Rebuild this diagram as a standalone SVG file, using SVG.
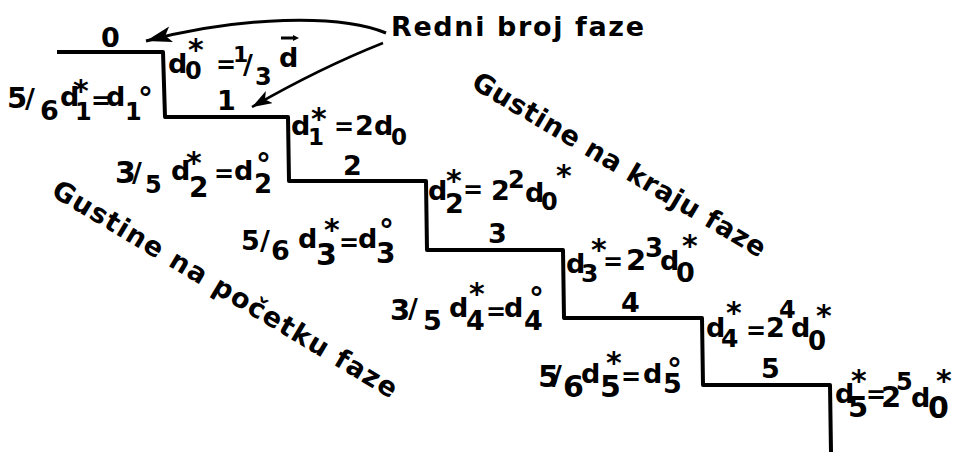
<svg xmlns="http://www.w3.org/2000/svg" width="957" height="452" viewBox="0 0 957 452">
<defs>
<style>
text{font-family:"DejaVu Sans","Liberation Sans",sans-serif;font-weight:bold;fill:#000;font-size:27px}
.s{font-size:24px}
.ast{font-size:30px}
.deg{font-size:30px}
.eq{font-size:24px}
.line{fill:none;stroke:#000;stroke-width:4;stroke-linejoin:round}
.arr{fill:none;stroke:#000}
</style>
<marker id="ah1" markerUnits="userSpaceOnUse" markerWidth="28" markerHeight="20" refX="26" refY="9" orient="auto">
<path d="M0,1 L26,9 L0,17 L6,9 z" fill="#000"/>
</marker>
<marker id="ah2" markerUnits="userSpaceOnUse" markerWidth="22" markerHeight="16" refX="20" refY="7" orient="auto">
<path d="M0,0 L20,7 L0,14 L5,7 z" fill="#000"/>
</marker>
</defs>
<rect width="957" height="452" fill="#fff"/>

<g id="staircase">
<path class="line" d="M57,52 L163,52 L165,117 L288,117 L289,181 L426,181 L427,250 L563,250 L564,318 L702,318 L703,385 L830,385 L831,452"/>
</g>

<g id="connectors">
<path class="arr" stroke-width="3" d="M386,33 C340,14 240,16 146,41" marker-end="url(#ah1)"/>
<path class="arr" stroke-width="2.5" d="M383,43 Q320,68 252,107" marker-end="url(#ah2)"/>
</g>

<g id="title">
<text x="391" y="36" font-size="26" textLength="253" lengthAdjust="spacing">Redni broj faze</text>
</g>

<g id="phase-0"><text x="101" y="47" font-size="23">0</text></g>
<g id="phase-1"><text x="217" y="110" font-size="24">1</text></g>
<g id="phase-2"><text x="343" y="175" font-size="25">2</text></g>
<g id="phase-3"><text x="488" y="243" font-size="27">3</text></g>
<g id="phase-4"><text x="621" y="312" font-size="26">4</text></g>
<g id="phase-5"><text x="761" y="378" font-size="26">5</text></g>

<g id="f0">
<text><tspan x="168" y="73">d</tspan><tspan x="185" y="79" class="s">0</tspan><tspan x="188" y="60" class="ast">*</tspan><tspan x="216" y="73" class="eq">=</tspan><tspan x="233" y="62" font-size="22">1</tspan><tspan x="243" y="74">/</tspan><tspan x="255" y="85" class="s">3</tspan><tspan x="279" y="67">d</tspan></text>
<path d="M281,38 L295,38" stroke="#000" stroke-width="3"/>
<path d="M293,35 L299,38 L293,41 z" fill="#000"/>
</g>

<g id="f1-start">
<text><tspan x="7" y="108" font-size="29">5</tspan><tspan x="25" y="108">/</tspan><tspan x="40" y="120">6</tspan><tspan x="60" y="106">d</tspan><tspan x="75" y="120" font-size="24">1</tspan><tspan x="73" y="101" class="ast">*</tspan><tspan x="91" y="109" class="eq">=</tspan><tspan x="106" y="106">d</tspan><tspan x="125" y="120" font-size="24">1</tspan><tspan x="138" y="109" class="deg">°</tspan></text>
</g>

<g id="f1-end">
<text><tspan x="291" y="135">d</tspan><tspan x="308" y="145" font-size="23">1</tspan><tspan x="311" y="129" class="ast">*</tspan><tspan x="334" y="135" class="eq">=</tspan><tspan x="355" y="135">2</tspan><tspan x="374" y="135">d</tspan><tspan x="391" y="145" font-size="23">0</tspan></text>
</g>

<g id="f2-start">
<text><tspan x="115" y="183" font-size="30">3</tspan><tspan x="132" y="182">/</tspan><tspan x="145" y="193" class="s">5</tspan><tspan x="171" y="180">d</tspan><tspan x="189" y="197" font-size="28">2</tspan><tspan x="186" y="173" class="ast">*</tspan><tspan x="214" y="182" class="eq">=</tspan><tspan x="234" y="180">d</tspan><tspan x="254" y="193" font-size="26">2</tspan><tspan x="256" y="175" class="deg">°</tspan></text>
</g>

<g id="f2-end">
<text><tspan x="428" y="200">d</tspan><tspan x="445" y="213">2</tspan><tspan x="446" y="191" class="ast">*</tspan><tspan x="463" y="198" class="eq">=</tspan><tspan x="491" y="200">2</tspan><tspan x="508" y="188" class="s">2</tspan><tspan x="525" y="202">d</tspan><tspan x="541" y="210" class="s">0</tspan><tspan x="556" y="186" class="ast">*</tspan></text>
</g>

<g id="f3-start">
<text><tspan x="241" y="250">5</tspan><tspan x="260" y="250">/</tspan><tspan x="271" y="260">6</tspan><tspan x="298" y="248">d</tspan><tspan x="316" y="265" font-size="30">3</tspan><tspan x="324" y="240" class="ast">*</tspan><tspan x="339" y="251" class="eq">=</tspan><tspan x="358" y="248">d</tspan><tspan x="376" y="263" font-size="28">3</tspan><tspan x="379" y="241" class="deg">°</tspan></text>
</g>

<g id="f3-end">
<text><tspan x="566" y="273">d</tspan><tspan x="581" y="282" font-size="25">3</tspan><tspan x="591" y="260" class="ast">*</tspan><tspan x="603" y="270" class="eq">=</tspan><tspan x="626" y="270" font-size="29">2</tspan><tspan x="645" y="257" font-size="26">3</tspan><tspan x="660" y="270">d</tspan><tspan x="676" y="282">0</tspan><tspan x="682" y="256" class="ast">*</tspan></text>
</g>

<g id="f4-start">
<text><tspan x="390" y="320" font-size="29">3</tspan><tspan x="408" y="318">/</tspan><tspan x="423" y="330">5</tspan><tspan x="449" y="317">d</tspan><tspan x="466" y="330">4</tspan><tspan x="469" y="304" class="ast">*</tspan><tspan x="486" y="320" class="eq">=</tspan><tspan x="504" y="317">d</tspan><tspan x="524" y="330">4</tspan><tspan x="529" y="309" class="deg">°</tspan></text>
</g>

<g id="f4-end">
<text><tspan x="706" y="337">d</tspan><tspan x="721" y="347" font-size="25">4</tspan><tspan x="726" y="323" class="ast">*</tspan><tspan x="746" y="339" class="eq">=</tspan><tspan x="766" y="337">2</tspan><tspan x="779" y="318" class="s">4</tspan><tspan x="791" y="337">d</tspan><tspan x="808" y="350" font-size="26">0</tspan><tspan x="816" y="326" class="ast">*</tspan></text>
</g>

<g id="f5-start">
<text><tspan x="538" y="387" font-size="30">5</tspan><tspan x="552" y="385">/</tspan><tspan x="563" y="397" font-size="30">6</tspan><tspan x="581" y="383">d</tspan><tspan x="600" y="397" font-size="30">5</tspan><tspan x="606" y="373" class="ast">*</tspan><tspan x="621" y="385" class="eq">=</tspan><tspan x="643" y="383">d</tspan><tspan x="663" y="393">5</tspan><tspan x="667" y="380" class="deg">°</tspan></text>
</g>

<g id="f5-end">
<text><tspan x="835" y="403">d</tspan><tspan x="848" y="417" font-size="29">5</tspan><tspan x="851" y="391" class="ast">*</tspan><tspan x="866" y="403" class="eq">=</tspan><tspan x="881" y="407" font-size="29">2</tspan><tspan x="896" y="390" class="s">5</tspan><tspan x="911" y="407">d</tspan><tspan x="928" y="418" font-size="30">0</tspan><tspan x="936" y="391" class="ast">*</tspan></text>
</g>

<g id="caption-end">
<text transform="translate(470,87) rotate(30.6)" font-size="25" textLength="336" lengthAdjust="spacing">Gustine na kraju faze</text>
</g>

<g id="caption-start">
<text transform="translate(50,195) rotate(30.9)" font-size="26" textLength="397" lengthAdjust="spacing">Gustine na početku faze</text>
</g>
</svg>
